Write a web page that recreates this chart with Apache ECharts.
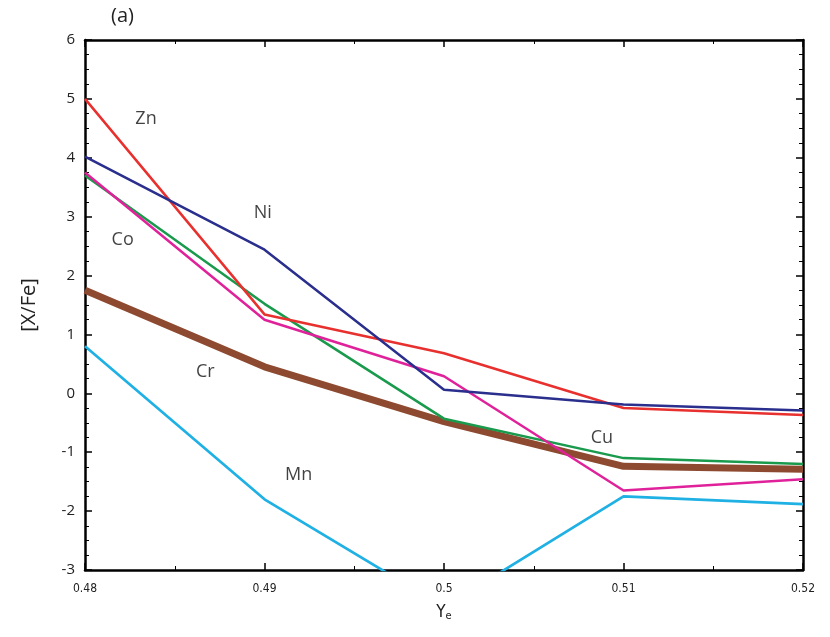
<!DOCTYPE html>
<html><head><meta charset="utf-8">
<script src="https://cdn.jsdelivr.net/npm/echarts@6/dist/echarts.min.js"></script>
<style>html,body{margin:0;padding:0;background:#fff}#c{width:830px;height:637px}</style>
</head><body><div id="c"></div>
<script>
var ye = [0.48, 0.49, 0.50, 0.51, 0.52];
var zn = [5.0, 1.34, 0.68, -0.25, -0.37];
var ni = [4.02, 2.44, 0.06, -0.19, -0.29];
var co = [3.70, 1.52, -0.43, -1.10, -1.20];
var cu = [3.75, 1.25, 0.29, -1.65, -1.46];
var cr = [1.75, 0.45, -0.48, -1.24, -1.29];
var mn = [0.80, -1.80, -3.63, -1.75, -1.88];
var labels = [
  {t:'Zn', x:0.4834, y:4.66},
  {t:'Ni', x:0.4899, y:3.07},
  {t:'Co', x:0.4821, y:2.61},
  {t:'Cr', x:0.4867, y:0.37},
  {t:'Mn', x:0.4919, y:-1.39},
  {t:'Cu', x:0.5088, y:-0.75}
];
function pairs(v){return ye.map(function(x,i){return [x,v[i]];});}
var chart = echarts.init(document.getElementById('c'));
var font = 'Open Sans, Liberation Sans, sans-serif';
var cond = 'DejaVu Sans Condensed, Liberation Sans Narrow, sans-serif';
function ln(name, data, color, w, z){
  return {name:name, type:'line', data:pairs(data), symbol:'none', clip:true, z:z||2,
    lineStyle:{color:color, width:w}, itemStyle:{color:color}};
}
var axisBase = {
  axisLine:{show:true, onZero:false, lineStyle:{color:'#000', width:2.5}},
  axisTick:{show:true, inside:true, length:7, lineStyle:{color:'#000', width:1.5}},
  minorTick:{show:true, splitNumber:2, length:4, lineStyle:{color:'#000', width:1}},
  splitLine:{show:false}
};
var yMinor = {minorTick:{show:true, splitNumber:4, length:4, lineStyle:{color:'#000', width:1}}};
chart.setOption({
  animation:false,
  grid:{left:85, right:27, top:40, bottom:67},
  xAxis:[
    Object.assign({type:'value', min:0.48, max:0.52, interval:0.01, position:'bottom',
      axisLabel:{color:'#222', fontSize:12, fontFamily:cond, margin:13},
      name:'Y{s|e}', nameLocation:'middle', nameGap:33,
      nameTextStyle:{color:'#222', fontSize:17, fontFamily:cond,
        rich:{s:{fontSize:11, fontFamily:cond, color:'#222', verticalAlign:'bottom', padding:[8,0,0,0]}}}
    }, axisBase),
    Object.assign({type:'value', min:0.48, max:0.52, interval:0.01, position:'top',
      axisLabel:{show:false}}, axisBase)
  ],
  yAxis:[
    Object.assign({type:'value', min:-3, max:6, interval:1, position:'left',
      axisLabel:{color:'#222', fontSize:15, fontFamily:font, margin:10},
      name:'[X/Fe]', nameLocation:'middle', nameGap:46, nameRotate:90,
      nameTextStyle:{color:'#222', fontSize:20, fontFamily:font}
    }, axisBase, yMinor),
    Object.assign({type:'value', min:-3, max:6, interval:1, position:'right',
      axisLabel:{show:false}}, axisBase, yMinor)
  ],
  series:[
    ln('Cr', cr, '#8e4a30', 7, 1),
    ln('Mn', mn, '#1fb0e4', 2.7),
    ln('Co', co, '#1a9a4c', 2.5),
    ln('Cu', cu, '#e0229a', 2.5),
    ln('Zn', zn, '#e8302e', 2.5),
    ln('Ni', ni, '#2a2e8c', 2.5),
    {type:'scatter', data:labels.map(function(l){return [l.x,l.y,l.t];}), symbolSize:0, z:5,
      label:{show:true, position:'inside', formatter:function(p){return p.data[2];},
        color:'#111', fontSize:18, fontFamily:font}}
  ],
  graphic:[{type:'text', left:111, top:6, style:{text:'(a)', fontSize:20, fontFamily:font, fill:'#222'}}]
});
</script></body></html>
